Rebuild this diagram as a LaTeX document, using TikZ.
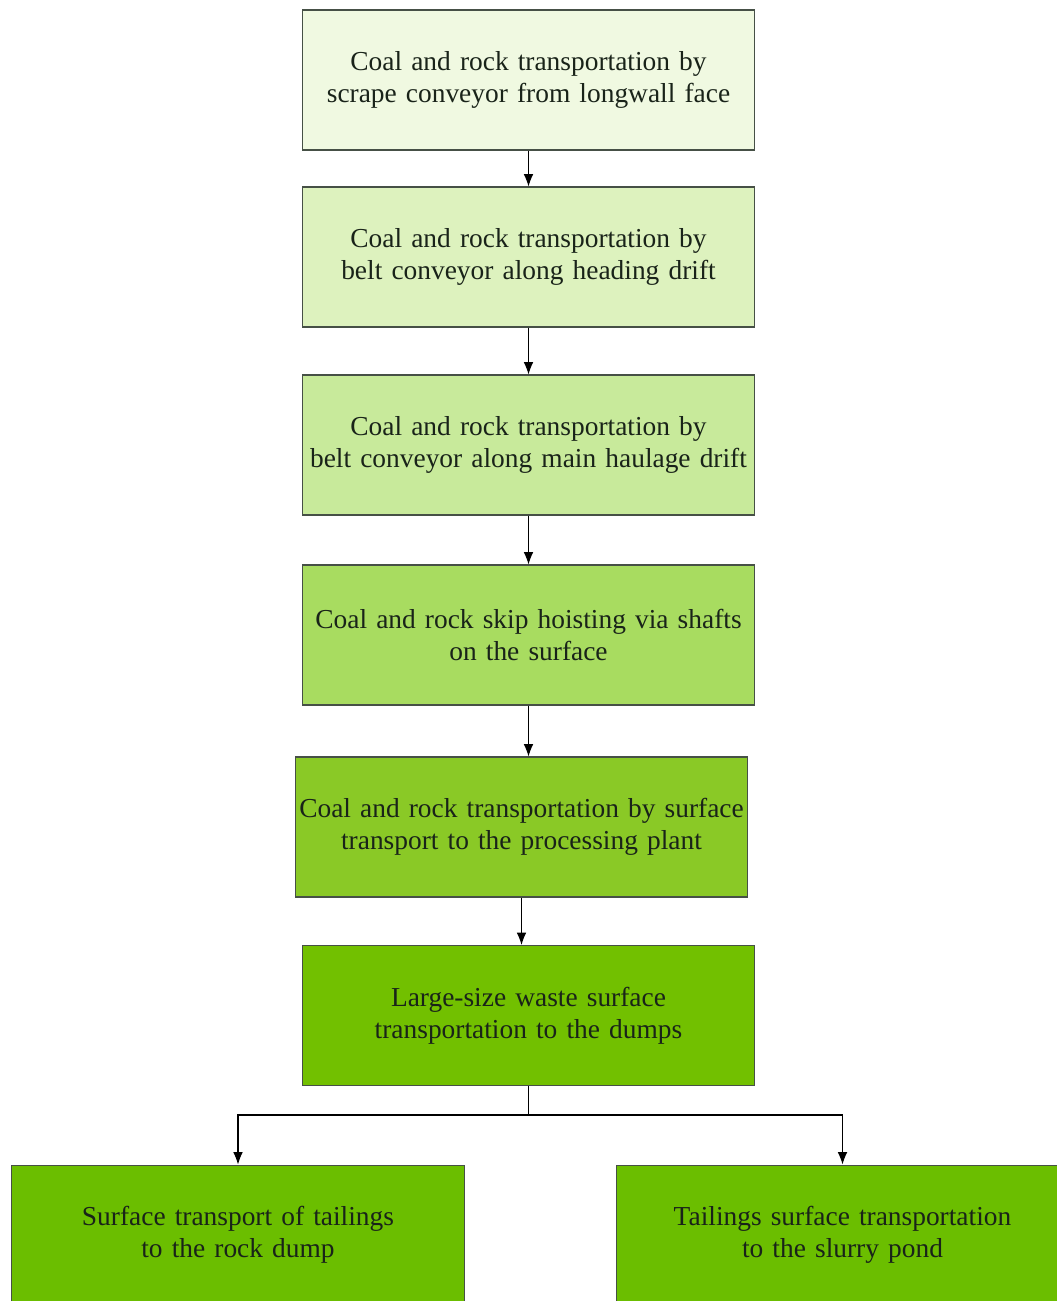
\documentclass[tikz,border=0pt]{standalone}
\usepackage{fontspec}
\setmainfont{Liberation Serif}
\usetikzlibrary{arrows.meta}
\definecolor{stageOne}{RGB}{240,249,225}
\definecolor{stageTwo}{RGB}{221,242,190}
\definecolor{stageThree}{RGB}{200,234,155}
\definecolor{stageFour}{RGB}{168,220,96}
\definecolor{stageFive}{RGB}{138,201,38}
\definecolor{stageSix}{RGB}{114,192,0}
\definecolor{stageEnd}{RGB}{107,190,0}
\definecolor{boxLine}{RGB}{70,80,70}
\definecolor{inkDark}{RGB}{25,35,25}

\begin{document}
\begin{tikzpicture}[x=0.02cm,y=-0.02cm,
  stagebox/.style={rectangle,draw=boxLine,line width=0.6pt,minimum width=9.06cm,minimum height=2.8cm,
    text width=8.9cm,align=center,inner sep=0pt,text=inkDark,font=\fontsize{15.6}{18}\selectfont},
  flow/.style={-{Latex[length=7pt,width=5.5pt]},line width=0.6pt}]
\useasboundingbox (0,0) rectangle (1056,1301);
\node[stagebox,fill=stageOne] (s1) at (528.5,80) {Coal and rock transportation by\\scrape conveyor from longwall face};
\node[stagebox,fill=stageTwo] (s2) at (528.5,257) {Coal and rock transportation by\\belt conveyor along heading drift};
\node[stagebox,fill=stageThree] (s3) at (528.5,445) {Coal and rock transportation by\\belt conveyor along main haulage drift};
\node[stagebox,fill=stageFour] (s4) at (528.5,635) {Coal and rock skip hoisting via shafts\\on the surface};
\node[stagebox,fill=stageFive] (s5) at (521.5,827) {Coal and rock transportation by surface\\transport to the processing plant};
\node[stagebox,fill=stageSix] (s6) at (528.5,1015.5) {Large-size waste surface\\transportation to the dumps};
\node[stagebox,fill=stageEnd] (b7) at (238,1235) {Surface transport of tailings\\to the rock dump};
\node[stagebox,fill=stageEnd] (b8) at (842.5,1235) {Tailings surface transportation\\to the slurry pond};

\draw[flow] (s1) -- (s2);
\draw[flow] (s2) -- (s3);
\draw[flow] (s3) -- (s4);
\draw[flow] (s4.south) -- (s4.south |- s5.north);
\draw[flow] (s5.south) -- (s5.south |- s6.north);
\coordinate (fork) at (528.5,1115);
\draw[line width=0.6pt] (s6.south) -- (fork);
\draw[flow] (fork) -| (b7.north);
\draw[flow] (fork) -| (b8.north);
\end{tikzpicture}
\end{document}
